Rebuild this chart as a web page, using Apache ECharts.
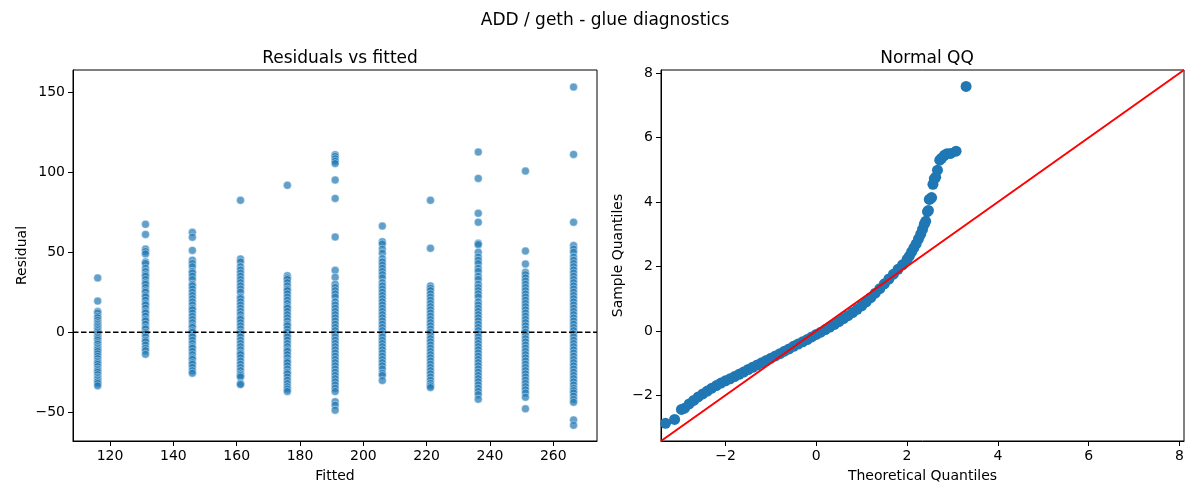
<!DOCTYPE html>
<html style="height: 100%">
<head>
    <meta charset="utf-8">
    <script src="https://cdn.jsdelivr.net/npm/echarts@6.0.0/dist/echarts.min.js"></script>
</head>
<body style="height: 100%; margin: 0; background: #fff">
<div id="container" style="width: 1200px; height: 500px"></div>
<script type="text/javascript">
    // fitted levels (x of each column) and residuals
    var fitted = [116.1, 131.2, 146.0, 161.2, 176.0, 191.1, 206.0, 221.2, 236.3, 251.2, 266.4];
    var res116 = [34, 19.5, 13, 12, 10, 9, 7.5, 6, 5, 4, 3, 2, 1, 0, -1, -2, -3, -4, -5, -6.5, -7.5, -9, -10, -11, -12, -13.5,
        -15, -16.5, -18, -19, -20, -21.5, -23, -24, -25, -26.5, -28, -29, -30, -31, -32, -33.5];
    var res131 = [67.5, 61.2, 52, 50.5, 49, 44, 43, 40, 38, 36, 35, 33, 31, 30, 28, 26, 25, 23, 22, 20, 18, 17, 15, 13, 12,
        10, 8, 7, 5, 3, 2, 0, -1, -3, -5, -6, -8, -10, -11.5, -13.8];
    var res146 = [62.5, 59.4, 51.2, 45, 43, 41, 38, 37, 35, 33, 30, 29, 27, 25, 23, 21, 19, 17, 15, 14, 12, 10, 8, 6, 4, 3,
        1, 0, -2, -3, -5, -7, -9, -10, -12, -14, -16, -17, -19, -20, -22, -24, -25.6];
    var res161 = [82.5, 45.8, 44, 41, 39, 37, 35, 33, 31, 29, 27, 25, 22, 21, 19, 17, 15, 13, 11, 9, 8, 6, 4, 2, 0, -1, -3,
        -5, -7, -9, -11, -13, -14, -16, -18, -20, -22, -24, -26, -27, -28, -32, -32.7];
    var res176 = [91.9, 35.4, 34, 33, 31, 29, 27, 26, 24, 22, 20, 18, 16, 15, 13, 11, 9, 7, 5, 4, 2, 0, -2, -3, -5, -7, -9,
        -11, -12, -14, -16, -18, -19, -21, -23, -25, -26, -28, -30, -32, -34, -35.5, -37];
    var res191 = [111, 110, 108.5, 107, 105.5, 95.2, 83.7, 59.6, 38.7, 34.4, 30, 28, 26, 24, 22, 19, 17, 15, 13, 11, 9, 7,
        5, 3, 1, -1, -3, -5, -7, -9, -11, -13, -15, -17, -19, -21, -23, -25, -27, -29, -31, -33, -35, -37, -43.4, -45.6, -48.7];
    var res206 = [66.4, 56.6, 55.2, 52, 49.4, 46, 44, 42, 40, 38, 36, 34, 31, 29, 27, 25, 23, 21, 19, 17, 15, 13, 11, 9, 7,
        5, 3, 1, -1, -3, -5, -7, -9, -11, -13, -15, -17, -19, -21, -23, -25.6, -27, -30.2];
    var res221 = [82.5, 52.5, 29, 27.5, 26, 24, 22, 20, 18, 16, 14, 12, 10, 8, 6, 4, 2, 0, -2, -4, -6, -8, -10, -12, -14,
        -16, -18, -20, -22, -24, -26, -28, -30, -32, -33.5, -34.6];
    var res236 = [112.7, 96.2, 74.4, 68.8, 55.6, 54.8, 50, 47, 45, 43, 40, 38, 35, 33, 30, 28, 26, 24, 22, 19, 17, 15, 13,
        11, 9, 7, 5, 3, 1, -1, -3, -5, -7, -9, -11, -13, -15, -17, -19, -21, -23, -25, -27, -29, -31, -33, -35, -37, -39, -41.9];
    var res251 = [100.8, 50.8, 42.7, 37.5, 36, 34, 32, 30, 28, 26, 24, 22, 20, 18, 16, 14, 12, 10, 8, 6, 4, 2, 0, -2, -4,
        -6, -8, -10, -12, -14, -16, -18, -20, -22, -24, -26, -28, -30, -32, -34, -36, -38, -40.6, -47.9];
    var res266 = [153.3, 111.2, 68.8, 54.2, 52, 50, 47, 45, 43, 41, 39, 37, 35, 33, 31, 29, 27, 25, 23, 21, 19, 17, 15, 13,
        11, 9, 7, 5, 3, 1, -1, -3, -5, -7, -9, -11, -13, -15, -17, -19, -21, -23, -25, -27, -29, -31, -33, -35, -36.5, -38,
        -40, -42, -43.8, -54.8, -58.2];
    var residuals = [res116, res131, res146, res161, res176, res191, res206, res221, res236, res251, res266];

    // normal QQ points
    var qqTheoretical = [-3.32, -3.12, -2.97, -2.90, -2.80, -2.70, -2.60, -2.50, -2.40, -2.30, -2.20, -2.10, -2.00, -1.90,
        -1.80, -1.70, -1.60, -1.50, -1.40, -1.30, -1.20, -1.10, -1.00, -0.90, -0.80, -0.70, -0.60, -0.50, -0.40, -0.30,
        -0.20, -0.10, 0.00, 0.10, 0.20, 0.30, 0.40, 0.50, 0.60, 0.70, 0.80, 0.90, 1.00, 1.10, 1.20, 1.30, 1.40, 1.50, 1.60,
        1.70, 1.80, 1.90, 2.00, 2.05, 2.10, 2.15, 2.20, 2.25, 2.30, 2.34, 2.38, 2.41, 2.45, 2.47, 2.49, 2.51, 2.54, 2.57,
        2.60, 2.63, 2.67, 2.72, 2.76, 2.82, 2.88, 2.96, 3.08, 3.30];
    var qqSample = [-2.87, -2.75, -2.44, -2.40, -2.27, -2.16, -2.05, -1.96, -1.87, -1.78, -1.70, -1.62, -1.55, -1.49,
        -1.42, -1.35, -1.28, -1.20, -1.13, -1.06, -0.99, -0.92, -0.85, -0.78, -0.71, -0.63, -0.56, -0.48, -0.41, -0.34,
        -0.27, -0.19, -0.11, -0.04, 0.04, 0.12, 0.20, 0.29, 0.38, 0.47, 0.57, 0.67, 0.78, 0.90, 1.03, 1.17, 1.31, 1.46, 1.61,
        1.76, 1.91, 2.05, 2.22, 2.32, 2.45, 2.58, 2.70, 2.85, 3.00, 3.15, 3.31, 3.40, 3.70, 3.74, 4.08, 4.10, 4.14, 4.55,
        4.72, 4.77, 4.99, 5.30, 5.36, 5.45, 5.50, 5.51, 5.58, 7.59];

    // axis limits and tick labels
    var fittedRange = [108.3, 273.8];
    var residualRange = [-68, 164];
    var qqRange = [-3.42, 8.1];
    var fittedTicks = [120, 140, 160, 180, 200, 220, 240, 260];
    var residualTicks = [-50, 0, 50, 100, 150];
    var qqTicks = [-2, 0, 2, 4, 6, 8];

    var font = 'DejaVu Sans';

    var scatterData = [];
    for (var i = 0; i < fitted.length; i++) {
        for (var j = 0; j < residuals[i].length; j++) {
            scatterData.push([fitted[i], residuals[i][j]]);
        }
    }
    var qqData = qqTheoretical.map(function (x, k) { return [x, qqSample[k]]; });

    function minus(v) {
        return String(v).replace('-', '\u2212');
    }

    function axis(gridIndex, range, ticks, name, gap) {
        return {
            type: 'value',
            gridIndex: gridIndex,
            min: range[0],
            max: range[1],
            name: name,
            nameLocation: 'middle',
            nameGap: gap,
            nameTextStyle: {color: '#000', fontSize: 14, fontFamily: font},
            axisLine: {show: true, onZero: false, lineStyle: {color: '#000', width: 1}},
            axisTick: {show: true, inside: false, length: 5, customValues: ticks, lineStyle: {color: '#000', width: 1}},
            axisLabel: {color: '#000', fontSize: 14, fontFamily: font, margin: 8, customValues: ticks, formatter: minus},
            splitLine: {show: false}
        };
    }

    var dom = document.getElementById("container");
    var myChart = echarts.init(dom, null, {renderer: 'canvas'});

    var option = {
        backgroundColor: '#fff',
        animation: false,
        title: [
            {text: 'ADD / geth - glue diagnostics', left: 600, top: 7, textAlign: 'center',
                textStyle: {fontSize: 17, fontWeight: 'normal', color: '#000', fontFamily: font}},
            {text: 'Residuals vs fitted', left: 335, top: 45, textAlign: 'center',
                textStyle: {fontSize: 17, fontWeight: 'normal', color: '#000', fontFamily: font}},
            {text: 'Normal QQ', left: 922, top: 45, textAlign: 'center',
                textStyle: {fontSize: 17, fontWeight: 'normal', color: '#000', fontFamily: font}}
        ],
        grid: [
            {left: 73, right: 603, top: 70, bottom: 59, show: true, borderColor: '#000', borderWidth: 1},
            {left: 661, right: 16, top: 70, bottom: 59, show: true, borderColor: '#000', borderWidth: 1}
        ],
        xAxis: [
            axis(0, fittedRange, fittedTicks, 'Fitted', 28),
            axis(1, qqRange, qqTicks, 'Theoretical Quantiles', 28)
        ],
        yAxis: [
            axis(0, residualRange, residualTicks, 'Residual', 44),
            axis(1, qqRange, qqTicks, 'Sample Quantiles', 36)
        ],
        series: [
            {
                name: 'residuals',
                type: 'scatter',
                xAxisIndex: 0,
                yAxisIndex: 0,
                symbolSize: 8,
                data: scatterData,
                itemStyle: {color: '#1f77b4', opacity: 0.7, borderColor: '#fff', borderWidth: 0.6},
                z: 2
            },
            {
                name: 'zero',
                type: 'line',
                xAxisIndex: 0,
                yAxisIndex: 0,
                data: [[fittedRange[0], 0], [fittedRange[1], 0]],
                symbol: 'none',
                lineStyle: {color: '#000', width: 1.4, type: [5.5, 2.5]},
                z: 4
            },
            {
                name: 'qq',
                type: 'scatter',
                xAxisIndex: 1,
                yAxisIndex: 1,
                symbolSize: 11,
                data: qqData,
                itemStyle: {color: '#1f77b4', opacity: 1},
                z: 2
            },
            {
                name: '45',
                type: 'line',
                xAxisIndex: 1,
                yAxisIndex: 1,
                data: [[qqRange[0], qqRange[0]], [qqRange[1], qqRange[1]]],
                symbol: 'none',
                lineStyle: {color: '#ff0000', width: 2},
                z: 4
            }
        ]
    };

    if (option && typeof option === "object") {
        myChart.setOption(option, true);
    }
</script>
</body>
</html>
